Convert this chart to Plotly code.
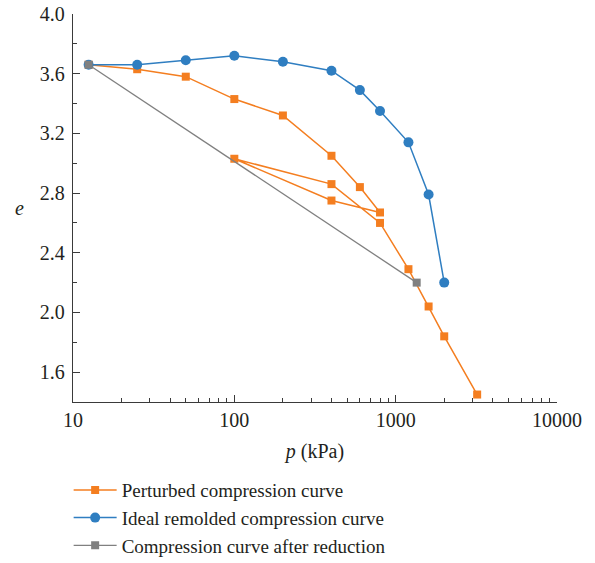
import plotly.graph_objects as go

# Data
p_perturbed = [12.5, 25, 50, 100, 200, 400, 600, 800, 400, 100, 400, 800, 1200, 1600, 2000, 3200]
e_perturbed = [3.66, 3.63, 3.58, 3.43, 3.32, 3.05, 2.84, 2.67, 2.75, 3.03, 2.86, 2.60, 2.29, 2.04, 1.84, 1.45]

p_ideal = [12.5, 25, 50, 100, 200, 400, 600, 800, 1200, 1600, 2000]
e_ideal = [3.66, 3.66, 3.69, 3.72, 3.68, 3.62, 3.49, 3.35, 3.14, 2.79, 2.20]

p_reduced = [12.5, 1350]
e_reduced = [3.66, 2.20]

x_tickvals = [10, 100, 1000, 10000]
x_ticktext = ["10", "100", "1000", "10000"]

names = ["Perturbed compression curve", "Ideal remolded compression curve",
         "Compression curve after reduction"]

FONT = "Liberation Serif"
ORANGE = "#F47E20"
BLUE = "#2F7EC1"
GRAY = "#808080"
AX = "#3a3a3a"
TXT = "#231f20"

fig = go.Figure()
fig.add_trace(go.Scatter(x=p_perturbed, y=e_perturbed, mode="lines+markers", name=names[0],
                         line=dict(color=ORANGE, width=1.5),
                         marker=dict(symbol="square", size=8, color=ORANGE)))
fig.add_trace(go.Scatter(x=p_ideal, y=e_ideal, mode="lines+markers", name=names[1],
                         line=dict(color=BLUE, width=1.5),
                         marker=dict(symbol="circle", size=10, color=BLUE)))
fig.add_trace(go.Scatter(x=p_reduced, y=e_reduced, mode="lines+markers", name=names[2],
                         line=dict(color=GRAY, width=1.3),
                         marker=dict(symbol="square", size=8, color=GRAY)))

fig.update_layout(
    width=595, height=563,
    margin=dict(l=73, r=38, t=14, b=161, autoexpand=False),
    plot_bgcolor="white", paper_bgcolor="white",
    font=dict(family=FONT, size=20, color=TXT),
    showlegend=True,
    legend=dict(x=-0.009, y=-0.178, xanchor="left", yanchor="top", itemwidth=43,
                font=dict(family=FONT, size=19, color=TXT),
                bgcolor="rgba(0,0,0,0)", tracegroupgap=0),
    xaxis=dict(type="log", range=[1, 4], tickvals=x_tickvals, ticktext=x_ticktext,
               showline=True, linecolor=AX, linewidth=1.3, ticks="inside", ticklen=7,
               tickcolor=AX, tickwidth=1.2, showgrid=False, zeroline=False,
               minor=dict(ticks="inside", ticklen=4, dtick="D1", tickcolor=AX, tickwidth=1.2, showgrid=False),
               title=dict(text="<i>p</i> (kPa)", font=dict(family=FONT, size=20), standoff=13)),
    yaxis=dict(range=[1.4, 4.0], tick0=1.6, dtick=0.4, tickformat=".1f",
               showline=True, linecolor=AX, linewidth=1.3, ticks="inside", ticklen=7,
               tickcolor=AX, tickwidth=1.2, showgrid=False, zeroline=False, ticklabelstandoff=3,
               minor=dict(ticks="inside", ticklen=4, dtick=0.2, tick0=1.6, tickcolor=AX, tickwidth=1.2, showgrid=False)),
)

fig.add_annotation(text="<i>e</i>", xref="paper", yref="paper", x=-0.11, y=0.5,
                   xanchor="center", yanchor="middle", showarrow=False,
                   font=dict(family=FONT, size=20, color=TXT))

fig.write_html("out.html")
